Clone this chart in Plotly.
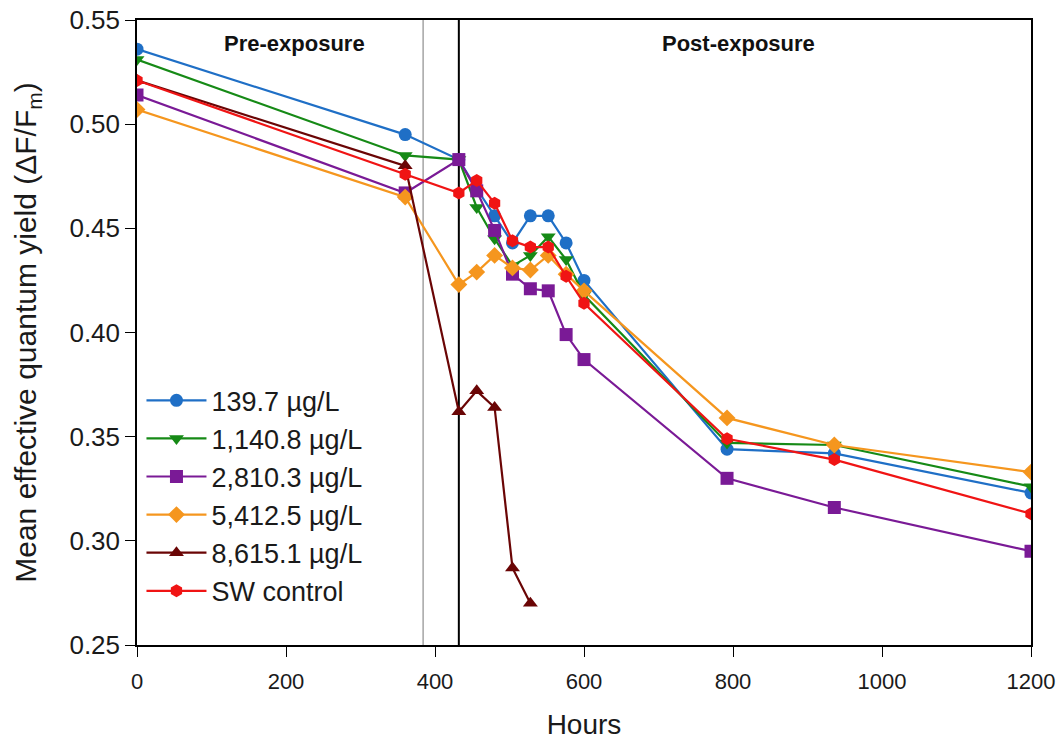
import plotly.graph_objects as go

hours = [0, 360, 432, 456, 480, 504, 528, 552, 576, 600, 792, 936, 1200]
s_139 = [0.536, 0.495, 0.483, 0.469, 0.456, 0.443, 0.456, 0.456, 0.443, 0.425, 0.344, 0.342, 0.323]
s_1140 = [0.531, 0.485, 0.483, 0.460, 0.445, 0.432, 0.437, 0.446, 0.435, 0.418, 0.347, 0.346, 0.326]
s_2810 = [0.514, 0.467, 0.483, 0.468, 0.449, 0.428, 0.421, 0.420, 0.399, 0.387, 0.330, 0.316, 0.295]
s_5412 = [0.507, 0.465, 0.423, 0.429, 0.437, 0.431, 0.430, 0.437, 0.428, 0.420, 0.359, 0.346, 0.333]
hours_8615 = [0, 360, 432, 456, 480, 504, 528]
s_8615 = [0.521, 0.480, 0.362, 0.372, 0.364, 0.287, 0.270]
s_ctrl = [0.521, 0.476, 0.467, 0.473, 0.462, 0.444, 0.441, 0.441, 0.427, 0.414, 0.349, 0.339, 0.313]

names = ["139.7 µg/L", "1,140.8 µg/L", "2,810.3 µg/L", "5,412.5 µg/L", "8,615.1 µg/L", "SW control"]
xs = [hours, hours, hours, hours, hours_8615, hours]
ys = [s_139, s_1140, s_2810, s_5412, s_8615, s_ctrl]
colors = ["#1f6fc6", "#168a16", "#7a1a96", "#f5961e", "#6a0505", "#f01414"]
symbols = ["circle", "triangle-down", "square", "diamond", "triangle-up", "hexagon"]

phase_lines = [384, 432]
phase_labels = ["Pre-exposure", "Post-exposure"]
phase_label_x = [212, 808]

fig = go.Figure()
for i in range(len(names)):
    fig.add_trace(go.Scatter(
        x=xs[i], y=ys[i], name=names[i], mode="lines+markers",
        line=dict(color=colors[i], width=2.2),
        marker=dict(symbol=symbols[i], size=13, color=colors[i]),
        legendgroup=f"g{i}",
    ))

fig.add_shape(type="line", xref="x", yref="paper", x0=phase_lines[0], x1=phase_lines[0],
              y0=0, y1=1, line=dict(color="#777777", width=1), layer="below")
fig.add_shape(type="line", xref="x", yref="paper", x0=phase_lines[1], x1=phase_lines[1],
              y0=0, y1=1, line=dict(color="black", width=2), layer="below")

for lab, xp in zip(phase_labels, phase_label_x):
    fig.add_annotation(x=xp, y=0.5385, xref="x", yref="y", text=f"<b>{lab}</b>",
                       showarrow=False, font=dict(size=22, color="#111111"))

fig.update_layout(
    width=1060, height=740,
    margin=dict(l=137, r=29, t=20, b=95, autoexpand=False),
    plot_bgcolor="white", paper_bgcolor="white",
    font=dict(family="Liberation Sans, Arial, sans-serif", color="#1a1a1a"),
    legend=dict(x=0.005, y=0.43, xanchor="left", yanchor="top",
                font=dict(size=27), bgcolor="rgba(0,0,0,0)",
                tracegroupgap=0, itemwidth=60),
    showlegend=True,
)
fig.update_xaxes(range=[0, 1200], tickvals=[0, 200, 400, 600, 800, 1000, 1200],
                 showline=True, linecolor="black", linewidth=1.5, mirror=True,
                 ticks="outside", ticklen=10, tickcolor="black", showgrid=False, zeroline=False,
                 ticklabelstandoff=6, automargin=False,
                 tickfont=dict(size=22), title=dict(text="Hours", font=dict(size=28), standoff=31))
fig.update_yaxes(range=[0.25, 0.55], tickvals=[0.25, 0.30, 0.35, 0.40, 0.45, 0.50, 0.55],
                 tickformat=".2f", automargin=False,
                 showline=True, linecolor="black", linewidth=1.5, mirror=True,
                 ticks="outside", ticklen=10, tickcolor="black", showgrid=False, zeroline=False,
                 tickfont=dict(size=26),
                 title=dict(text="Mean effective quantum yield (ΔF/F<sub>m</sub>)", font=dict(size=30), standoff=24))

fig.write_html("out.html")
